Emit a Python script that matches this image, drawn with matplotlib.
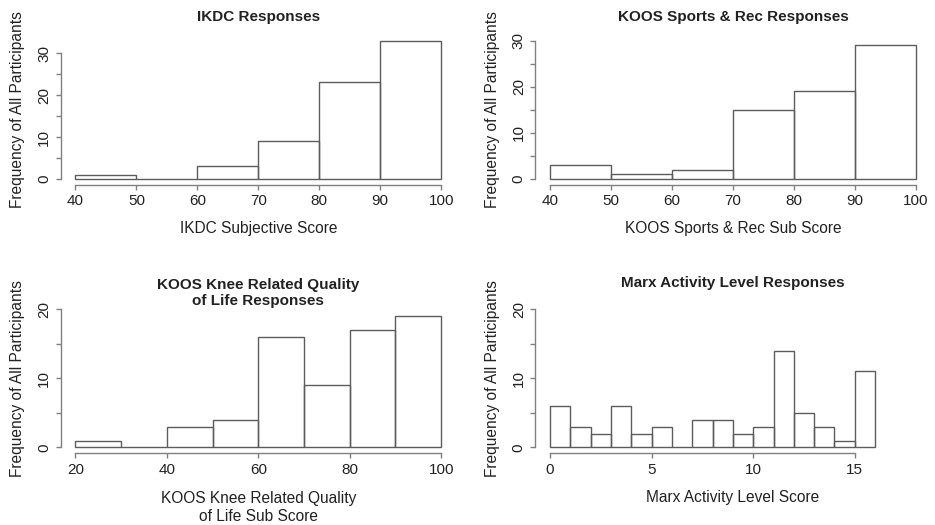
import numpy as np
import matplotlib
matplotlib.use("Agg")
import matplotlib.pyplot as plt

plt.rcParams['font.family'] = ['Liberation Sans', 'DejaVu Sans']

# bin edges and counts
ikdc_edges = [40, 50, 60, 70, 80, 90, 100]
ikdc_counts = [1, 0, 3, 9, 23, 33]

sport_edges = [40, 50, 60, 70, 80, 90, 100]
sport_counts = [3, 1, 2, 15, 19, 29]

qol_edges = [20, 30, 40, 50, 60, 70, 80, 90, 100]
qol_counts = [1, 0, 3, 4, 16, 9, 17, 19]

marx_edges = list(range(0, 17))
marx_counts = [6, 3, 2, 6, 2, 3, 0, 4, 4, 2, 3, 14, 5, 3, 1, 11]

titles = ["IKDC Responses", "KOOS Sports & Rec Responses",
          "KOOS Knee Related Quality\nof Life Responses", "Marx Activity Level Responses"]
xlabels = ["IKDC Subjective Score", "KOOS Sports & Rec Sub Score",
           "KOOS Knee Related Quality\nof Life Sub Score", "Marx Activity Level Score"]
ylabel = "Frequency of All Participants"

xticks = [[40, 50, 60, 70, 80, 90, 100], [40, 50, 60, 70, 80, 90, 100],
          [20, 40, 60, 80, 100], [0, 5, 10, 15]]
xlims = [(40, 100), (40, 100), (20, 100), (0, 18)]
ylims = [(0, 33), (0, 30), (0, 20), (0, 20)]
ytick_max = [30, 30, 20, 20]

edges_all = [ikdc_edges, sport_edges, qol_edges, marx_edges]
counts_all = [ikdc_counts, sport_counts, qol_counts, marx_counts]

bar_col = "#5c5c5c"
axis_col = "#808080"
text_col = "#222222"

W, H = 935, 525
fig = plt.figure(figsize=(W / 100, H / 100), dpi=100)

# plot regions in pixels (left, top)
lefts = [60.8, 535.4, 60.8, 535.4]
tops = [35, 35, 303.5, 303.5]
pw, ph = 395, 149.5

# px from top of region up to centre of last title line
title_dy = [20.0, 20.0, 3.5, 22.5]
# px from bottom of region down to centre of x label
xlab_dy = [44.5, 44.5, 54.5, 44.5]

for i in range(4):
    ax = fig.add_axes([lefts[i] / W, 1 - (tops[i] + ph) / H, pw / W, ph / H])
    e = np.array(edges_all[i], dtype=float)
    c = np.array(counts_all[i], dtype=float)
    ax.bar(e[:-1], c, width=np.diff(e), align='edge', fill=False,
           edgecolor=bar_col, linewidth=1.0)

    # R style 4% expansion of the ranges
    x0, x1 = xlims[i]
    y0, y1 = ylims[i]
    dx = (x1 - x0) * 0.04
    dy = (y1 - y0) * 0.04
    ax.set_xlim(x0 - dx, x1 + dx)
    ax.set_ylim(y0 - dy, y1 + dy)

    for s in ['top', 'right']:
        ax.spines[s].set_visible(False)
    ax.spines['left'].set_bounds(0, ytick_max[i])
    ax.spines['bottom'].set_bounds(xticks[i][0], xticks[i][-1])
    for s in ['left', 'bottom']:
        ax.spines[s].set_color(axis_col)
        ax.spines[s].set_linewidth(1.0)

    ax.set_xticks(xticks[i])
    ax.set_xticklabels([str(t) for t in xticks[i]])
    yt = list(range(0, ytick_max[i] + 1, 5))
    ax.set_yticks(yt)
    ax.set_yticklabels([str(t) if t % 10 == 0 else "" for t in yt],
                       rotation=90, va='center')
    ax.tick_params(axis='both', direction='out', length=3.6, width=1.0,
                   color=axis_col, labelsize=11, labelcolor=text_col)
    ax.tick_params(axis='x', pad=3.5)
    ax.tick_params(axis='y', pad=3.3)

    # y given explicitly so matplotlib does not auto-move the title
    ax.set_title(titles[i], fontsize=11, fontweight='bold', color=text_col,
                 pad=0, va='baseline', linespacing=1.25,
                 y=1 + (title_dy[i] - 5.5) / ph)

    ax.set_xlabel(xlabels[i], fontsize=11.2, color=text_col, va='center',
                  linespacing=1.2)
    ax.xaxis.set_label_coords(0.5, -xlab_dy[i] / ph)
    ax.set_ylabel(ylabel, fontsize=11.2, color=text_col, va='center')
    ax.yaxis.set_label_coords(-42.8 / pw, 0.5)

fig.savefig("out.png", dpi=100, facecolor='white')
